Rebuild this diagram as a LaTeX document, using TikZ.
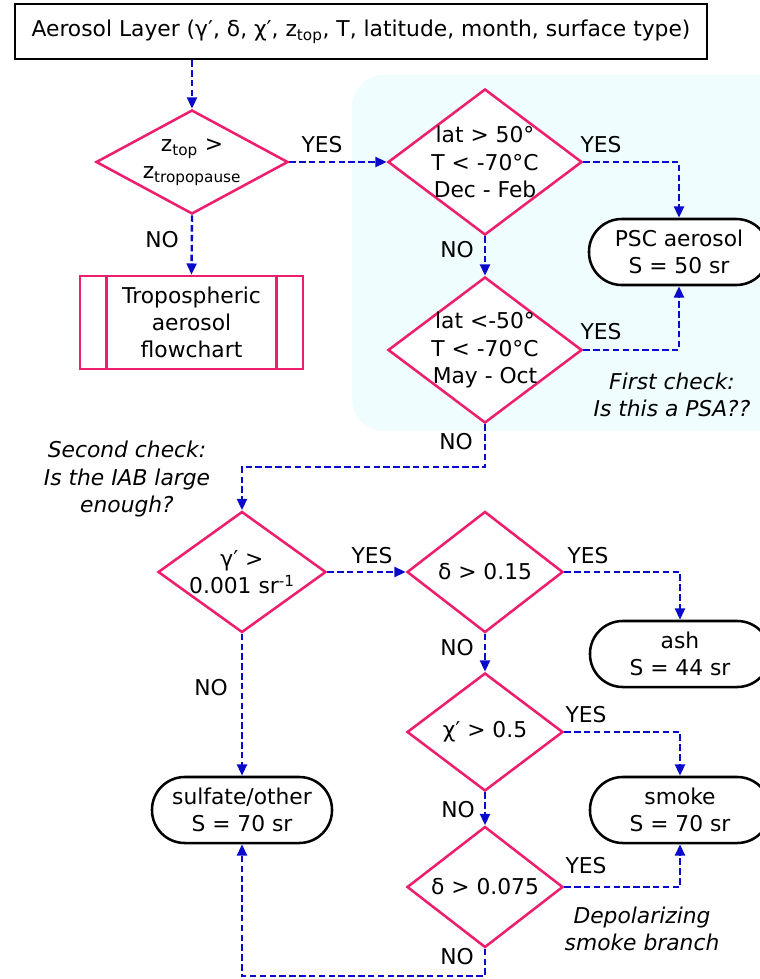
\documentclass[tikz,border=0pt]{standalone}
\usepackage{fontspec}
\setmainfont{DejaVu Sans}
\usetikzlibrary{shapes.geometric,arrows.meta,positioning}

\definecolor{rosered}{RGB}{238,30,110}
\definecolor{flowblue}{RGB}{10,10,205}
\definecolor{iceblue}{RGB}{240,253,254}
\newcommand{\flowfont}{\fontsize{15.5}{19.3}\selectfont}

\tikzset{
  decision/.style={diamond, draw=rosered, line width=1.8pt, fill=white, inner sep=0pt},
  outcome/.style={rectangle, rounded corners=0.82cm, draw=black, line width=1.8pt, fill=white,
    minimum width=4.5cm, minimum height=1.65cm, align=center},
  flow/.style={draw=flowblue, line width=1.7pt, dash pattern=on 4.6pt off 2.4pt,
    -{Triangle[length=8pt,width=7pt]}},
  remark/.style={align=center, font=\flowfont\itshape},
}

\begin{document}
\begin{tikzpicture}[x=0.025cm,y=-0.025cm,font=\flowfont]
    \useasboundingbox (0,0) rectangle (760,979);
    % first check region
    \fill[iceblue, rounded corners=0.8cm] (352,75) rectangle (800,431);

    \node[draw, line width=1.8pt, minimum width=17.3cm, minimum height=1.375cm] (layer) at (361,31.5)
        {Aerosol Layer (γ′, δ, χ′, z\textsubscript{top}, T, latitude, month, surface type)};

    \node[decision, minimum width=4.8cm, minimum height=2.6cm,
        label={[align=center]center:z\textsubscript{top} >\\z\textsubscript{tropopause}}] (ztop) at (192,162) {};
    \node[decision, minimum width=4.85cm, minimum height=3.65cm,
        label={[align=center]center:lat > 50°\\T < -70°C\\Dec - Feb}] (north) at (485,162) {};
    \node[decision, minimum width=4.85cm, minimum height=3.65cm,
        label={[align=center]center:lat <-50°\\T < -70°C\\May - Oct}] (south) at (485,350) {};
    \node[outcome] (psc) at (679,252) {PSC aerosol\\S = 50 sr};

    \node[draw=rosered, line width=1.8pt, fill=white, minimum width=5.575cm, minimum height=2.325cm,
        align=center] (tropo) at (191.5,322.5) {Tropospheric\\aerosol\\flowchart};
    \draw[rosered, line width=1.8pt] ([xshift=0.7cm]tropo.north west) -- ([xshift=0.7cm]tropo.south west);
    \draw[rosered, line width=1.8pt] ([xshift=-0.7cm]tropo.north east) -- ([xshift=-0.7cm]tropo.south east);

    \node[remark] (firstcheck) at (672,395) {First check:\\Is this a PSA??};
    \node[remark] (secondcheck) at (127,479) {Second check:\\Is the IAB large\\enough?};

    \node[decision, minimum width=4.2cm, minimum height=3.025cm,
        label={[align=center]center:γ′ >\\0.001 sr\textsuperscript{-1}}] (gamma) at (242,572) {};
    \node[decision, minimum width=3.9cm, minimum height=3.025cm,
        label={[align=center]center:δ > 0.15}] (delta) at (485,572) {};
    \node[decision, minimum width=3.9cm, minimum height=2.95cm,
        label={[align=center]center:χ′ > 0.5}] (chi) at (485,732) {};
    \node[decision, minimum width=3.9cm, minimum height=3.025cm,
        label={[align=center]center:δ > 0.075}] (depol) at (485,887) {};

    \node[outcome] (ash) at (680,654) {ash\\S = 44 sr};
    \node[outcome] (smoke) at (680,810) {smoke\\S = 70 sr};
    \node[outcome] (sulfate) at (242,810) {sulfate/other\\S = 70 sr};

    \node[remark] (branch) at (642,929) {Depolarizing\\smoke branch};

    \coordinate (bendpsa) at (485,467);
    \coordinate (bendlow) at (485,976);

    \draw[flow] (ztop |- layer.south) -- (ztop.north);
    \draw[flow] (ztop.east) -- (north.west);
    \draw[flow] (ztop.south) -- (tropo.north);
    \draw[flow] (north.east) -| (psc.north);
    \draw[flow] (north.south) -- (south.north);
    \draw[flow] (south.east) -| (psc.south);
    \draw[flow] (south.south) -- (bendpsa) -| (gamma.north);
    \draw[flow] (gamma.east) -- (delta.west);
    \draw[flow] (gamma.south) -- (sulfate.north);
    \draw[flow] (delta.east) -| (ash.north);
    \draw[flow] (delta.south) -- (chi.north);
    \draw[flow] (chi.east) -| (smoke.north);
    \draw[flow] (chi.south) -- (depol.north);
    \draw[flow] (depol.east) -| (smoke.south);
    \draw[flow] (depol.south) -- (bendlow) -| (sulfate.south);

    % answers
    \node (yes1) at (322,145) {YES};
    \node (no1) at (162,240) {NO};
    \node (yes2) at (601,145) {YES};
    \node (no2) at (457,250) {NO};
    \node (yes3) at (601,332) {YES};
    \node (no3) at (456,442) {NO};
    \node (yes4) at (372,556) {YES};
    \node (no4) at (211,688) {NO};
    \node (yes5) at (588,556) {YES};
    \node (no5) at (457,648) {NO};
    \node (yes6) at (586,715) {YES};
    \node (no6) at (458,810) {NO};
    \node (yes7) at (586,866) {YES};
    \node (no7) at (457,957) {NO};
\end{tikzpicture}
\end{document}
